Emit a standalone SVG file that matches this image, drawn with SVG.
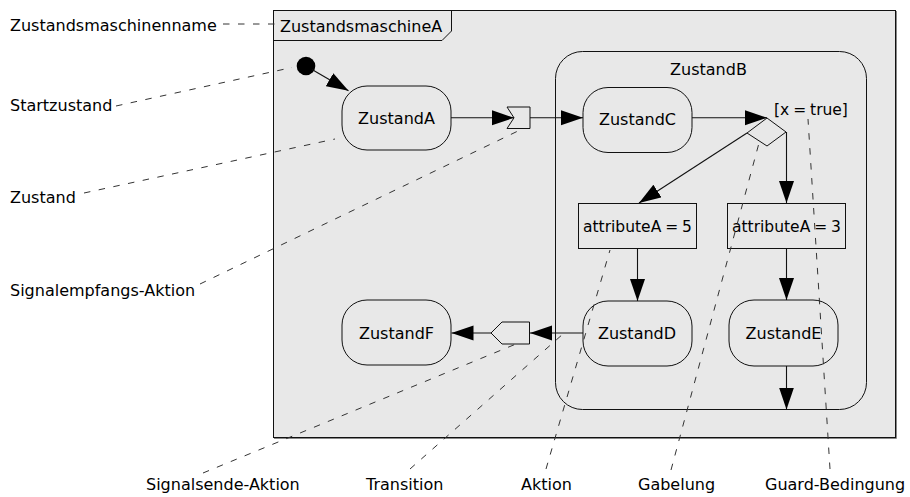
<svg xmlns="http://www.w3.org/2000/svg" width="910" height="497" viewBox="0 0 910 497">
  <defs>
    <marker id="arrow" markerUnits="userSpaceOnUse" markerWidth="23" markerHeight="16" refX="22" refY="7.5" orient="auto">
      <path d="M0,0 L22,7.5 L0,15 Z" fill="#000"/>
    </marker>
    <style>
      text { font-family: "DejaVu Sans", Verdana, sans-serif; font-size: 16px; fill: #000; }
      .mid { text-anchor: middle; }
      .tight { font-size: 15.5px; word-spacing: -1px; }
      .state { fill: #e8e8e8; stroke: #111; stroke-width: 1; }
      .box { fill: #e8e8e8; stroke: #111; stroke-width: 1; }
      .edge { fill: none; stroke: #111; stroke-width: 1.1; }
      .note { fill: none; stroke: #333; stroke-width: 1; stroke-dasharray: 6.5 8.5; }
    </style>
  </defs>
  <rect width="910" height="497" fill="#fff"/>

  <!-- state machine frame -->
  <g id="frame">
    <rect x="273.5" y="10.5" width="622" height="427" fill="#e8e8e8" stroke="#111"/>
    <path d="M896.5,11 V438.5 H274" fill="none" stroke="#888" stroke-width="1"/>
    <path d="M273.5,40.5 H442 L451.5,31 V10.5" fill="none" stroke="#111"/>
    <text x="280" y="32">ZustandsmaschineA</text>
  </g>

  <!-- composite state -->
  <g id="zustandB">
    <rect class="state" x="555.5" y="51.5" width="311" height="358" rx="27" ry="27"/>
    <text class="mid" x="708.5" y="75">ZustandB</text>
  </g>

  <g id="start">
    <circle cx="306" cy="66" r="9.3" fill="#000"/>
  </g>

  <g id="zustandA">
    <rect class="state" x="342" y="86" width="109" height="64" rx="25" ry="25"/>
    <text class="mid" x="396.5" y="124">ZustandA</text>
  </g>

  <g id="signalEmpfang">
    <polygon class="box" points="507,107 530,107 530,128.5 507,128.5 514,117.8"/>
  </g>

  <g id="zustandC">
    <rect class="state" x="583" y="87.5" width="109" height="65" rx="25" ry="25"/>
    <text class="mid" x="637.5" y="125">ZustandC</text>
  </g>

  <g id="gabelung">
    <polygon class="box" points="767,118 786,132 767,146 747,133"/>
    <text class="tight" x="774" y="115">[x = true]</text>
  </g>

  <g id="aktion5">
    <rect class="box" x="578.5" y="203.5" width="118" height="45"/>
    <text class="mid tight" x="637.5" y="232">attributeA = 5</text>
  </g>

  <g id="aktion3">
    <rect class="box" x="727.5" y="203.5" width="118" height="45"/>
    <text class="mid tight" x="786.5" y="232">attributeA = 3</text>
  </g>

  <g id="zustandD">
    <rect class="state" x="583" y="301" width="109" height="65" rx="25" ry="25"/>
    <text class="mid" x="637" y="339">ZustandD</text>
  </g>

  <g id="zustandE">
    <rect class="state" x="729" y="300" width="109" height="66" rx="25" ry="25"/>
    <text class="mid" x="783.5" y="339">ZustandE</text>
  </g>

  <g id="signalSende">
    <polygon class="box" points="491,333 502,322 529.5,322 529.5,344 502,344"/>
  </g>

  <g id="zustandF">
    <rect class="state" x="342" y="300" width="109" height="65" rx="25" ry="25"/>
    <text class="mid" x="396.5" y="339">ZustandF</text>
  </g>

  <!-- transitions -->
  <g id="connectors">
    <line class="edge" x1="312" y1="69.5" x2="348.5" y2="90.8" marker-end="url(#arrow)"/>
    <line class="edge" x1="451" y1="117.8" x2="514" y2="117.8" marker-end="url(#arrow)"/>
    <line class="edge" x1="530" y1="117.8" x2="583" y2="117.8" marker-end="url(#arrow)"/>
    <line class="edge" x1="692" y1="117.8" x2="767" y2="117.8" marker-end="url(#arrow)"/>
    <line class="edge" x1="747" y1="133" x2="639" y2="203" marker-end="url(#arrow)"/>
    <line class="edge" x1="786.5" y1="132" x2="786.5" y2="203" marker-end="url(#arrow)"/>
    <line class="edge" x1="637.5" y1="248.5" x2="637.5" y2="301" marker-end="url(#arrow)"/>
    <line class="edge" x1="786.5" y1="248.5" x2="786.5" y2="300" marker-end="url(#arrow)"/>
    <line class="edge" x1="786.5" y1="366" x2="786.5" y2="409.5" marker-end="url(#arrow)"/>
    <line class="edge" x1="583" y1="333" x2="530" y2="333" marker-end="url(#arrow)"/>
    <line class="edge" x1="491" y1="333" x2="451.5" y2="333" marker-end="url(#arrow)"/>
  </g>

  <!-- annotation leaders -->
  <g id="leaders">
    <line class="note" x1="223" y1="24" x2="282" y2="24"/>
    <line class="note" x1="116" y1="106" x2="292" y2="67.5"/>
    <line class="note" x1="84" y1="193" x2="335" y2="139"/>
    <line class="note" x1="200" y1="284" x2="518" y2="131"/>
    <line class="note" x1="203" y1="473" x2="516" y2="344"/>
    <line class="note" x1="410" y1="469" x2="563" y2="334"/>
    <line class="note" x1="546" y1="469" x2="610" y2="250"/>
    <line class="note" x1="671" y1="470" x2="759" y2="143"/>
    <line class="note" x1="830" y1="469" x2="808" y2="119"/>
  </g>

  <g id="labels">
    <text x="10" y="31">Zustandsmaschinenname</text>
    <text x="10" y="111">Startzustand</text>
    <text x="10" y="203">Zustand</text>
    <text x="10" y="296">Signalempfangs-Aktion</text>
    <text x="146" y="490">Signalsende-Aktion</text>
    <text x="366" y="490">Transition</text>
    <text x="521" y="490">Aktion</text>
    <text x="638" y="490">Gabelung</text>
    <text x="765" y="490">Guard-Bedingung</text>
  </g>
</svg>
